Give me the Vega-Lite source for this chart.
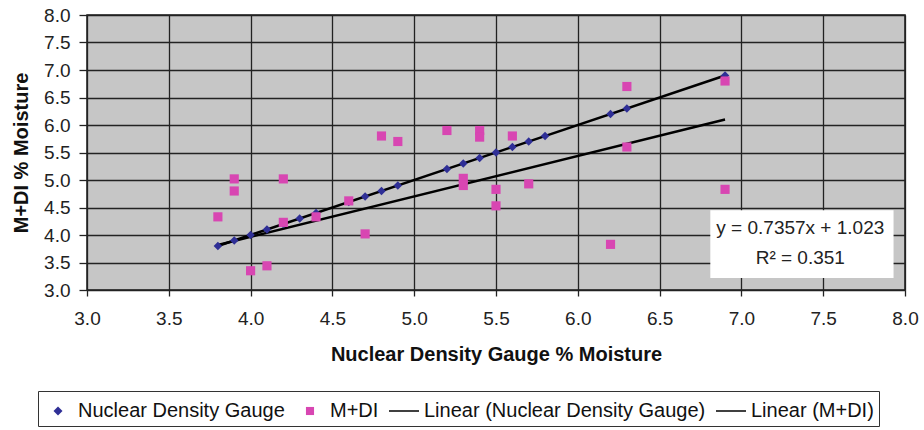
{
  "$schema": "https://vega.github.io/schema/vega-lite/v6.json",
  "width": 818,
  "height": 275,
  "autosize": {"type": "none"},
  "padding": {"left": 87, "top": 15, "right": 19, "bottom": 140},
  "background": "white",
  "config": {
    "font": "Liberation Sans",
    "view": {"fill": "#c6c6c6", "stroke": "#1a1a1a", "strokeWidth": 1.5},
    "axis": {
      "grid": true,
      "gridColor": "#222222",
      "gridWidth": 1.3,
      "domain": false,
      "tickColor": "#222222",
      "tickWidth": 1.3,
      "labelFont": "Liberation Sans",
      "labelFontSize": 19,
      "labelColor": "#222222",
      "labelFlush": false,
      "labelOverlap": false,
      "titleFont": "Liberation Sans",
      "titleFontSize": 20,
      "titleFontWeight": "bold",
      "titleColor": "#111111"
    }
  },
  "datasets": {
    "ndg": [
      {"x": 3.8, "y": 3.8, "series": "Nuclear Density Gauge"},
      {"x": 3.9, "y": 3.9, "series": "Nuclear Density Gauge"},
      {"x": 4.0, "y": 4.0, "series": "Nuclear Density Gauge"},
      {"x": 4.1, "y": 4.1, "series": "Nuclear Density Gauge"},
      {"x": 4.2, "y": 4.2, "series": "Nuclear Density Gauge"},
      {"x": 4.3, "y": 4.3, "series": "Nuclear Density Gauge"},
      {"x": 4.4, "y": 4.4, "series": "Nuclear Density Gauge"},
      {"x": 4.6, "y": 4.6, "series": "Nuclear Density Gauge"},
      {"x": 4.7, "y": 4.7, "series": "Nuclear Density Gauge"},
      {"x": 4.8, "y": 4.8, "series": "Nuclear Density Gauge"},
      {"x": 4.9, "y": 4.9, "series": "Nuclear Density Gauge"},
      {"x": 5.2, "y": 5.2, "series": "Nuclear Density Gauge"},
      {"x": 5.3, "y": 5.3, "series": "Nuclear Density Gauge"},
      {"x": 5.4, "y": 5.4, "series": "Nuclear Density Gauge"},
      {"x": 5.5, "y": 5.5, "series": "Nuclear Density Gauge"},
      {"x": 5.6, "y": 5.6, "series": "Nuclear Density Gauge"},
      {"x": 5.7, "y": 5.7, "series": "Nuclear Density Gauge"},
      {"x": 5.8, "y": 5.8, "series": "Nuclear Density Gauge"},
      {"x": 6.2, "y": 6.2, "series": "Nuclear Density Gauge"},
      {"x": 6.3, "y": 6.3, "series": "Nuclear Density Gauge"},
      {"x": 6.9, "y": 6.9, "series": "Nuclear Density Gauge"}
    ],
    "mdi": [
      {"x": 3.8, "y": 4.33, "series": "M+DI"},
      {"x": 3.9, "y": 5.02, "series": "M+DI"},
      {"x": 3.9, "y": 4.8, "series": "M+DI"},
      {"x": 4.0, "y": 3.35, "series": "M+DI"},
      {"x": 4.1, "y": 3.44, "series": "M+DI"},
      {"x": 4.2, "y": 5.02, "series": "M+DI"},
      {"x": 4.2, "y": 4.23, "series": "M+DI"},
      {"x": 4.4, "y": 4.33, "series": "M+DI"},
      {"x": 4.6, "y": 4.62, "series": "M+DI"},
      {"x": 4.7, "y": 4.02, "series": "M+DI"},
      {"x": 4.8, "y": 5.8, "series": "M+DI"},
      {"x": 4.9, "y": 5.7, "series": "M+DI"},
      {"x": 5.2, "y": 5.9, "series": "M+DI"},
      {"x": 5.3, "y": 5.03, "series": "M+DI"},
      {"x": 5.3, "y": 4.9, "series": "M+DI"},
      {"x": 5.4, "y": 5.9, "series": "M+DI"},
      {"x": 5.4, "y": 5.78, "series": "M+DI"},
      {"x": 5.5, "y": 4.83, "series": "M+DI"},
      {"x": 5.5, "y": 4.53, "series": "M+DI"},
      {"x": 5.6, "y": 5.8, "series": "M+DI"},
      {"x": 5.7, "y": 4.93, "series": "M+DI"},
      {"x": 6.2, "y": 3.83, "series": "M+DI"},
      {"x": 6.3, "y": 6.7, "series": "M+DI"},
      {"x": 6.3, "y": 5.6, "series": "M+DI"},
      {"x": 6.9, "y": 6.8, "series": "M+DI"},
      {"x": 6.9, "y": 4.83, "series": "M+DI"}
    ],
    "trend": [
      {"x": 3.8, "y": 3.8, "series": "Linear (Nuclear Density Gauge)"},
      {"x": 6.9, "y": 6.9, "series": "Linear (Nuclear Density Gauge)"},
      {"x": 3.8, "y": 3.819, "series": "Linear (M+DI)"},
      {"x": 6.9, "y": 6.099, "series": "Linear (M+DI)"}
    ],
    "box": [
      {"x": 6.81, "x2": 7.93, "y": 3.22, "y2": 4.45}
    ],
    "eq": [
      {"x": 7.36, "y": 4.13, "label": "y = 0.7357x + 1.023"},
      {"x": 7.36, "y": 3.58, "label": "R² = 0.351"}
    ]
  },
  "encoding": {
    "x": {
      "field": "x", "type": "quantitative",
      "scale": {"domain": [3, 8], "nice": false, "zero": false},
      "axis": {
        "values": [3, 3.5, 4, 4.5, 5, 5.5, 6, 6.5, 7, 7.5, 8],
        "format": ".1f",
        "tickSize": 6,
        "labelPadding": 13,
        "titlePadding": 16,
        "title": "Nuclear Density Gauge % Moisture"
      }
    },
    "y": {
      "field": "y", "type": "quantitative",
      "scale": {"domain": [3, 8], "nice": false, "zero": false},
      "axis": {
        "values": [3, 3.5, 4, 4.5, 5, 5.5, 6, 6.5, 7, 7.5, 8],
        "format": ".1f",
        "tickSize": 8,
        "labelPadding": 9,
        "titlePadding": 12,
        "title": "M+DI % Moisture"
      }
    }
  },
  "layer": [
    {
      "data": {"name": "trend"},
      "mark": {"type": "line", "color": "#000000", "strokeWidth": 2.5},
      "encoding": {
        "detail": {"field": "series", "type": "nominal"}
      }
    },
    {
      "data": {"name": "ndg"},
      "mark": {"type": "point", "filled": true, "opacity": 1, "size": 800, "strokeWidth": 0},
      "encoding": {
        "color": {"field": "series", "type": "nominal"},
        "shape": {"field": "series", "type": "nominal"}
      }
    },
    {
      "data": {"name": "mdi"},
      "mark": {"type": "point", "filled": true, "opacity": 1, "size": 1150, "strokeWidth": 0},
      "encoding": {
        "color": {
          "field": "series", "type": "nominal",
          "scale": {
            "domain": ["Nuclear Density Gauge", "M+DI", "Linear (Nuclear Density Gauge)", "Linear (M+DI)"],
            "range": ["#2f2f96", "#d846b2", "#000000", "#000000"]
          },
          "legend": {
            "orient": "none",
            "legendX": -49,
            "legendY": 376,
            "direction": "horizontal",
            "title": null,
            "symbolSize": 900,
            "symbolStrokeWidth": 0,
            "labelFont": "Liberation Sans",
            "labelFontSize": 20,
            "labelColor": "#111111",
            "labelLimit": 500,
            "labelOffset": 5,
            "columnPadding": 10,
            "padding": 5,
            "strokeColor": "#333333",
            "fillColor": "#ffffff",
            "encode": {
              "symbols": {"update": {"fill": {"scale": "color", "field": "value"}, "strokeWidth": {"value": 0}, "opacity": {"value": 1}}}
            }
          }
        },
        "shape": {
          "field": "series", "type": "nominal",
          "scale": {
            "domain": ["Nuclear Density Gauge", "M+DI", "Linear (Nuclear Density Gauge)", "Linear (M+DI)"],
            "range": ["M0,-0.3L0.3,0L0,0.3L-0.3,0Z", "M-0.27,-0.27H0.27V0.27H-0.27Z", "M-1,-0.05H1V0.05H-1Z", "M-1,-0.05H1V0.05H-1Z"]
          },
          "legend": {
            "orient": "none",
            "legendX": -49,
            "legendY": 376,
            "direction": "horizontal",
            "title": null
          }
        }
      }
    },
    {
      "data": {"name": "box"},
      "mark": {"type": "rect", "fill": "#ffffff"},
      "encoding": {
        "x2": {"field": "x2"},
        "y2": {"field": "y2"}
      }
    },
    {
      "data": {"name": "eq"},
      "mark": {"type": "text", "font": "Liberation Sans", "fontSize": 19, "color": "#222222", "align": "center", "baseline": "middle"},
      "encoding": {
        "text": {"field": "label", "type": "nominal"}
      }
    }
  ]
}
